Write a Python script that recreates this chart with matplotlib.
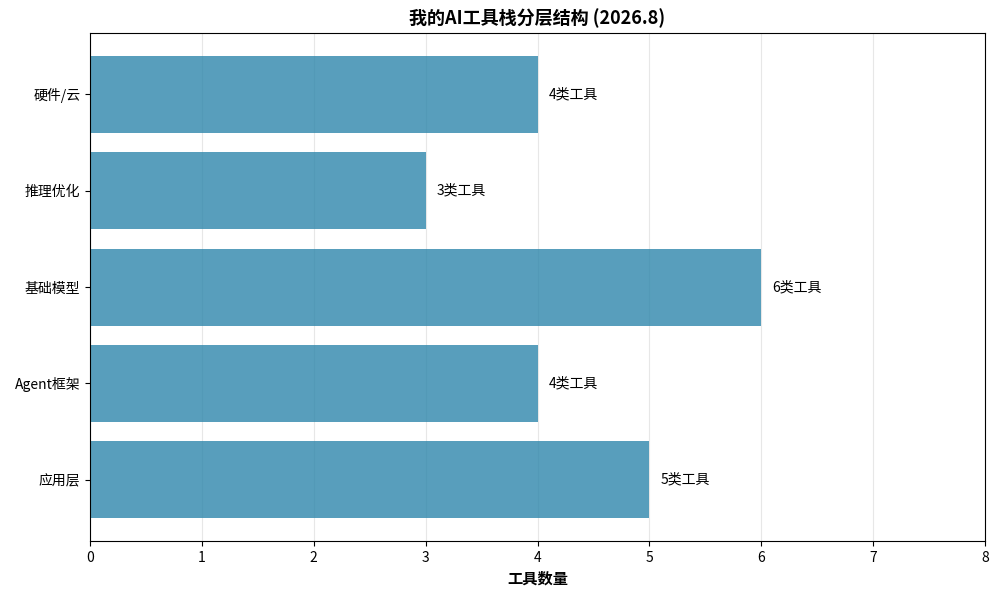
import matplotlib
matplotlib.use("Agg")
import matplotlib.pyplot as plt

plt.rcParams['font.family'] = ['Noto Sans CJK SC', 'DejaVu Sans']

categories = ['应用层', 'Agent框架', '基础模型', '推理优化', '硬件/云']
values = [5, 4, 6, 3, 4]
labels = [f'{v}类工具' for v in values]

fig, ax = plt.subplots(figsize=(10, 5.95), dpi=100)
bars = ax.barh(categories, values, color='#2E86AB', alpha=0.8, height=0.8)
for b, lab in zip(bars, labels):
    ax.text(b.get_width() + 0.1, b.get_y() + b.get_height() / 2, lab,
            va='center', ha='left', fontsize=10)
ax.set_xlim(0, 8)
ax.set_xlabel('工具数量', fontsize=11, fontweight='bold')
ax.set_title('我的AI工具栈分层结构 (2026.8)', fontsize=13, fontweight='bold')
ax.grid(axis='x', alpha=0.3)
ax.set_axisbelow(True)
fig.subplots_adjust(left=0.09, right=0.985, top=0.945, bottom=0.09)
fig.savefig('out.png', dpi=100)
